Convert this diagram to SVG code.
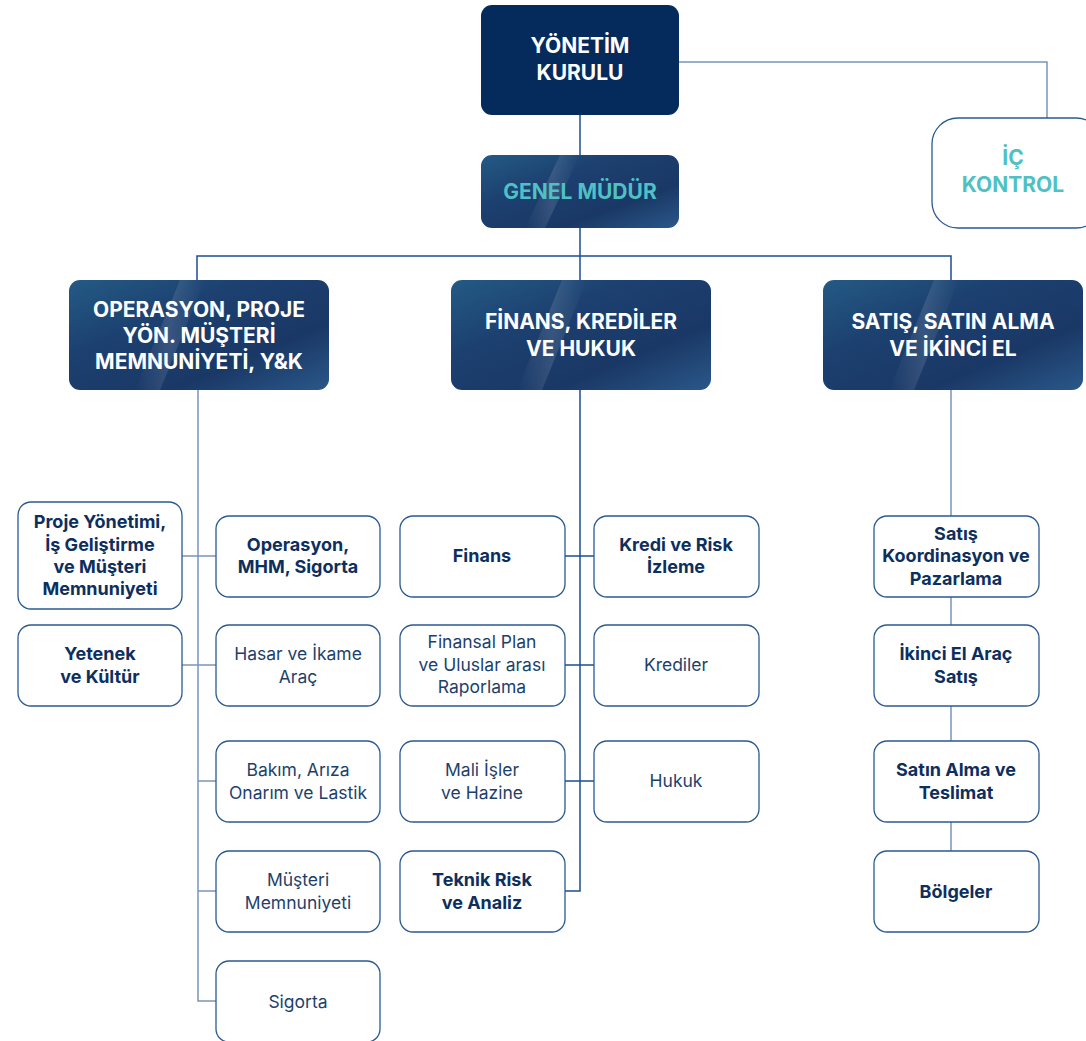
<svg xmlns="http://www.w3.org/2000/svg" width="1086" height="1041" viewBox="0 0 1086 1041">
<defs>
<linearGradient id="gBlue" x1="0" y1="0" x2="1" y2="1">
<stop offset="0" stop-color="#245a85"/>
<stop offset="0.35" stop-color="#1c4070"/>
<stop offset="0.7" stop-color="#1a3866"/>
<stop offset="1" stop-color="#2a588a"/>
</linearGradient>
<linearGradient id="gShine" x1="0" y1="0" x2="1" y2="0">
<stop offset="0" stop-color="#ffffff" stop-opacity="0"/>
<stop offset="0.5" stop-color="#ffffff" stop-opacity="0.12"/>
<stop offset="1" stop-color="#ffffff" stop-opacity="0"/>
</linearGradient>
<style>
.dark{fill:#052a5c}
.grad{fill:url(#gBlue)}
.box{fill:#ffffff;stroke:#2a5a92;stroke-width:1.3}
.ln{fill:none;stroke:#1c4f92;stroke-width:1.5}
.ln2{fill:none;stroke:#7896bd;stroke-width:1.5}
.wt{font-family:Inter,Roboto,"Liberation Sans",sans-serif;font-weight:700;font-size:21px;fill:#ffffff;text-anchor:middle}
.tl{font-family:Inter,Roboto,"Liberation Sans",sans-serif;font-weight:700;font-size:21px;fill:#4fc1c4;text-anchor:middle}
.b{font-family:Inter,Roboto,"Liberation Sans",sans-serif;font-weight:700;font-size:18px;fill:#0d2f5e;text-anchor:middle}
.r{font-family:Inter,Roboto,"Liberation Sans",sans-serif;font-weight:400;font-size:17.5px;fill:#1d3f6c;text-anchor:middle}
</style>
</defs>
<g id="connectors">
<path class="ln2" d="M679,62 H1047 V118"/>
<path class="ln" d="M580,115 V155"/>
<path class="ln" d="M580,228 V280 M197,280 V256 H951 V280"/>
<path class="ln2" d="M198,390 V1001 H216 M198,556 H216 M182,556 H198 M182,665 H216 M198,781 H216 M198,891 H216"/>
<path class="ln" d="M580,390 V891 H565 M565,556 H594 M565,665 H594 M565,781 H594"/>
<path class="ln2" d="M951,390 V516 M951,597 V625 M951,706 V741 M951,822 V851"/>
</g>
<g id="yonetim-kurulu">
<rect class="dark" x="481" y="5" width="198" height="110" rx="11"/>
<text class="wt" x="580" y="53">YÖNETİM</text>
<text class="wt" x="580" y="80">KURULU</text>
</g>
<g id="ic-kontrol">
<rect class="box" x="932" y="118" width="170" height="110" rx="26" stroke="#1f4e8c" stroke-width="1.5"/>
<text class="tl" x="1013" y="165">İÇ</text>
<text class="tl" x="1013" y="192">KONTROL</text>
</g>
<g id="genel-mudur">
<rect class="grad" x="481" y="155" width="198" height="73" rx="11"/>
<path d="M560,155 L580,155 L545,228 L525,228 Z" fill="url(#gShine)"/>
<text class="tl" x="580" y="199">GENEL MÜDÜR</text>
</g>
<g id="operasyon-l2">
<rect class="grad" x="69" y="280" width="260" height="110" rx="11"/>
<path d="M180,280 L205,280 L160,390 L135,390 Z" fill="url(#gShine)"/>
<text class="wt" x="199" y="317">OPERASYON, PROJE</text>
<text class="wt" x="199" y="343">YÖN. MÜŞTERİ</text>
<text class="wt" x="199" y="369">MEMNUNİYETİ, Y&amp;K</text>
</g>
<g id="finans-l2">
<rect class="grad" x="451" y="280" width="260" height="110" rx="11"/>
<path d="M562,280 L587,280 L542,390 L517,390 Z" fill="url(#gShine)"/>
<text class="wt" x="581" y="329">FİNANS, KREDİLER</text>
<text class="wt" x="581" y="356">VE HUKUK</text>
</g>
<g id="satis-l2">
<rect class="grad" x="823" y="280" width="260" height="110" rx="11"/>
<path d="M934,280 L959,280 L914,390 L889,390 Z" fill="url(#gShine)"/>
<text class="wt" x="953" y="329">SATIŞ, SATIN ALMA</text>
<text class="wt" x="953" y="356">VE İKİNCİ EL</text>
</g>
<g id="proje-yonetimi">
<rect class="box" x="18" y="502" width="164" height="107" rx="13"/>
<text class="b" x="100" y="528">Proje Yönetimi,</text>
<text class="b" x="100" y="551">İş Geliştirme</text>
<text class="b" x="100" y="573">ve Müşteri</text>
<text class="b" x="100" y="595">Memnuniyeti</text>
</g>
<g id="yetenek">
<rect class="box" x="18" y="625" width="164" height="81" rx="13"/>
<text class="b" x="100" y="660">Yetenek</text>
<text class="b" x="100" y="683">ve Kültür</text>
</g>
<g id="operasyon-mhm">
<rect class="box" x="216" y="516" width="164" height="81" rx="13"/>
<text class="b" x="298" y="551">Operasyon,</text>
<text class="b" x="298" y="573">MHM, Sigorta</text>
</g>
<g id="hasar">
<rect class="box" x="216" y="625" width="164" height="81" rx="13"/>
<text class="r" x="298" y="660">Hasar ve İkame</text>
<text class="r" x="298" y="683">Araç</text>
</g>
<g id="bakim">
<rect class="box" x="216" y="741" width="164" height="81" rx="13"/>
<text class="r" x="298" y="776">Bakım, Arıza</text>
<text class="r" x="298" y="799">Onarım ve Lastik</text>
</g>
<g id="musteri-memnuniyeti">
<rect class="box" x="216" y="851" width="164" height="81" rx="13"/>
<text class="r" x="298" y="886">Müşteri</text>
<text class="r" x="298" y="909">Memnuniyeti</text>
</g>
<g id="sigorta">
<rect class="box" x="216" y="961" width="164" height="81" rx="13"/>
<text class="r" x="298" y="1008">Sigorta</text>
</g>
<g id="finans">
<rect class="box" x="400" y="516" width="165" height="81" rx="13"/>
<text class="b" x="482" y="562">Finans</text>
</g>
<g id="kredi-risk">
<rect class="box" x="594" y="516" width="165" height="81" rx="13"/>
<text class="b" x="676" y="551">Kredi ve Risk</text>
<text class="b" x="676" y="573">İzleme</text>
</g>
<g id="finansal-plan">
<rect class="box" x="400" y="625" width="165" height="81" rx="13"/>
<text class="r" x="482" y="648">Finansal Plan</text>
<text class="r" x="482" y="671">ve Uluslar arası</text>
<text class="r" x="482" y="693">Raporlama</text>
</g>
<g id="krediler">
<rect class="box" x="594" y="625" width="165" height="81" rx="13"/>
<text class="r" x="676" y="671">Krediler</text>
</g>
<g id="mali-isler">
<rect class="box" x="400" y="741" width="165" height="81" rx="13"/>
<text class="r" x="482" y="776">Mali İşler</text>
<text class="r" x="482" y="799">ve Hazine</text>
</g>
<g id="hukuk">
<rect class="box" x="594" y="741" width="165" height="81" rx="13"/>
<text class="r" x="676" y="787">Hukuk</text>
</g>
<g id="teknik-risk">
<rect class="box" x="400" y="851" width="165" height="81" rx="13"/>
<text class="b" x="482" y="886">Teknik Risk</text>
<text class="b" x="482" y="909">ve Analiz</text>
</g>
<g id="satis-koordinasyon">
<rect class="box" x="874" y="516" width="165" height="81" rx="13"/>
<text class="b" x="956" y="540">Satış</text>
<text class="b" x="956" y="562">Koordinasyon ve</text>
<text class="b" x="956" y="585">Pazarlama</text>
</g>
<g id="ikinci-el">
<rect class="box" x="874" y="625" width="165" height="81" rx="13"/>
<text class="b" x="956" y="660">İkinci El Araç</text>
<text class="b" x="956" y="683">Satış</text>
</g>
<g id="satin-alma">
<rect class="box" x="874" y="741" width="165" height="81" rx="13"/>
<text class="b" x="956" y="776">Satın Alma ve</text>
<text class="b" x="956" y="799">Teslimat</text>
</g>
<g id="bolgeler">
<rect class="box" x="874" y="851" width="165" height="81" rx="13"/>
<text class="b" x="956" y="898">Bölgeler</text>
</g>
</svg>
